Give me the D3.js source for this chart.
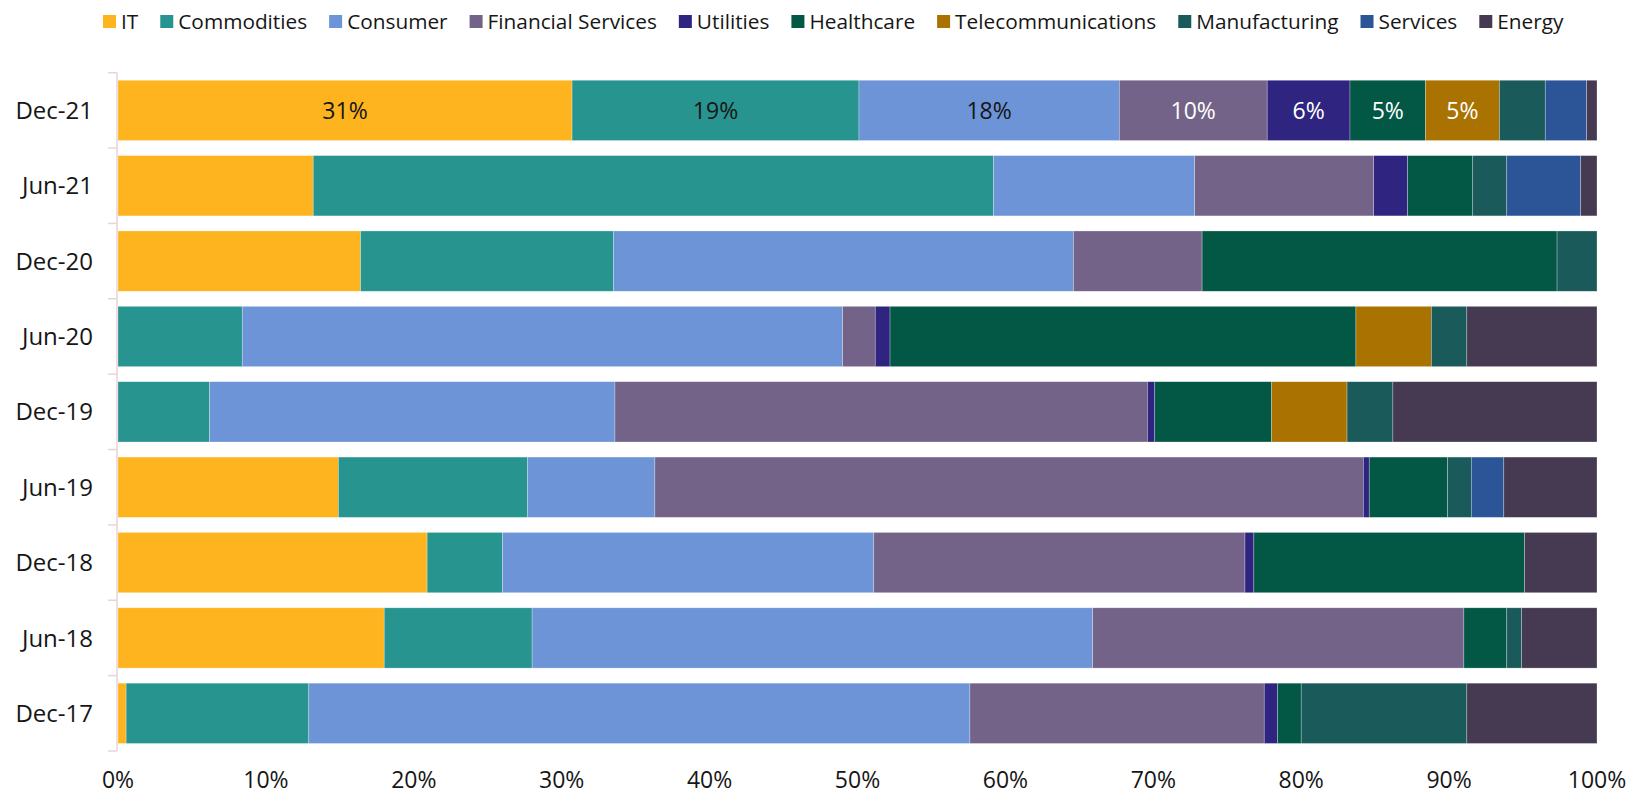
<!DOCTYPE html>
<html>
<head>
<meta charset="utf-8">
<script src="https://cdn.jsdelivr.net/npm/d3@7"></script>
<style>
  body { margin: 0; background: #fff; }
  svg text { font-family: "Open Sans", "Noto Sans", sans-serif; fill: #161616; }
</style>
</head>
<body>
<svg id="chart" width="1632" height="794"></svg>
<script>
// periods, top to bottom
var periods = ["Dec-21", "Jun-21", "Dec-20", "Jun-20", "Dec-19", "Jun-19", "Dec-18", "Jun-18", "Dec-17"];

var sectors = ["IT", "Commodities", "Consumer", "Financial Services", "Utilities",
               "Healthcare", "Telecommunications", "Manufacturing", "Services", "Energy"];

// share of portfolio (%) per sector, same order as periods
var it            = [30.7, 13.2, 16.4,  0.0,  0.0, 14.9, 20.9, 18.0,  0.55];
var commodities   = [19.4, 46.0, 17.1,  8.4,  6.2, 12.8,  5.1, 10.0, 12.35];
var consumer      = [17.6, 13.6, 31.1, 40.6, 27.4,  8.6, 25.1, 37.9, 44.7];
var financial     = [10.0, 12.1,  8.7,  2.2, 36.0, 47.9, 25.1, 25.1, 19.9];
var utilities     = [ 5.6,  2.3,  0.0,  1.0,  0.5,  0.4,  0.6,  0.0,  0.9];
var healthcare    = [ 5.1,  4.4, 24.0, 31.5,  7.9,  5.3, 18.3,  2.9,  1.6];
var telecom       = [ 5.0,  0.0,  0.0,  5.1,  5.1,  0.0,  0.0,  0.0,  0.0];
var manufacturing = [ 3.1,  2.3,  2.7,  2.4,  3.1,  1.6,  0.0,  1.0, 11.2];
var services      = [ 2.8,  5.0,  0.0,  0.0,  0.0,  2.2,  0.0,  0.0,  0.0];
var energy        = [ 0.7,  1.1,  0.0,  8.8, 13.8,  6.3,  4.9,  5.1,  8.8];

var xTicks = [0, 10, 20, 30, 40, 50, 60, 70, 80, 90, 100];

var colors = ["#fdb41f", "#289490", "#6c94d6", "#736388", "#2f2580",
              "#025745", "#aa7200", "#1a5a5a", "#2b5597", "#453a52"];
// sectors whose labels are drawn in white
var darkSectors = ["Financial Services", "Utilities", "Healthcare", "Telecommunications",
                   "Manufacturing", "Services", "Energy"];

var seriesValues = [it, commodities, consumer, financial, utilities,
                    healthcare, telecom, manufacturing, services, energy];

// build rows for d3.stack
var rows = periods.map(function(p, i) {
    var row = {period: p};
    sectors.forEach(function(s, j) { row[s] = seriesValues[j][i]; });
    return row;
});

var stacked = d3.stack().keys(sectors)(rows);

var svg = d3.select("#chart");

var x = d3.scaleLinear()
    .domain([0, 100])
    .range([118, 1597]);

var y = d3.scaleBand()
    .domain(periods)
    .range([72.7, 751])
    .paddingInner(0.2)
    .paddingOuter(0.1);

var color = d3.scaleOrdinal().domain(sectors).range(colors);

/* bars */
var layers = svg.append("g")
    .selectAll("g.layer")
    .data(stacked)
    .enter()
    .append("g")
    .attr("class", "layer")
    .attr("fill", d => color(d.key));

layers.selectAll("rect")
    .data(d => d.map(v => ({key: d.key, v: v})))
    .enter()
    .filter(d => d.v[1] - d.v[0] > 0)
    .append("rect")
    .attr("x", d => x(d.v[0]))
    .attr("y", d => y(d.v.data.period))
    .attr("width", d => x(d.v[1]) - x(d.v[0]))
    .attr("height", y.bandwidth())
    .attr("stroke", "#ffffff")
    .attr("stroke-opacity", 0.45)
    .attr("stroke-width", 0.6);

/* value labels, latest period only */
var latest = [];
stacked.forEach(function(layer) {
    var v = layer[0];
    if (v[1] - v[0] >= 4) latest.push({key: layer.key, v: v});
});

svg.append("g")
    .selectAll("text")
    .data(latest)
    .enter()
    .append("text")
    .attr("x", d => (x(d.v[0]) + x(d.v[1])) / 2)
    .attr("y", y(periods[0]) + y.bandwidth() / 2)
    .attr("dy", "0.36em")
    .attr("text-anchor", "middle")
    .style("font-size", "23px")
    .style("fill", d => darkSectors.indexOf(d.key) >= 0 ? "#ffffff" : "#161616")
    .text(d => Math.round(d.v[1] - d.v[0]) + "%");

/* y axis: light line with ticks between the bands */
var axisColor = "#e8d3d8";
var yAxis = svg.append("g");
yAxis.append("line")
    .attr("x1", 117).attr("x2", 117)
    .attr("y1", y.range()[0]).attr("y2", y.range()[1])
    .attr("stroke", axisColor)
    .attr("stroke-width", 1.5);
var bounds = d3.range(periods.length + 1).map(i => y.range()[0] + i * y.step());
yAxis.selectAll("line.tick")
    .data(bounds)
    .enter()
    .append("line")
    .attr("class", "tick")
    .attr("x1", 108).attr("x2", 117)
    .attr("y1", d => d).attr("y2", d => d)
    .attr("stroke", axisColor)
    .attr("stroke-width", 1.5);
yAxis.selectAll("text")
    .data(periods)
    .enter()
    .append("text")
    .attr("x", 93)
    .attr("y", d => y(d) + y.bandwidth() / 2)
    .attr("dy", "0.36em")
    .attr("text-anchor", "end")
    .style("font-size", "24px")
    .text(d => d);

/* x axis labels */
svg.append("g")
    .selectAll("text")
    .data(xTicks)
    .enter()
    .append("text")
    .attr("x", d => x(d))
    .attr("y", 788)
    .attr("text-anchor", "middle")
    .style("font-size", "23px")
    .text(d => d + "%");

/* legend */
var legend = svg.append("g");
var lx = 103;
sectors.forEach(function(s) {
    legend.append("rect")
        .attr("x", lx).attr("y", 15)
        .attr("width", 13).attr("height", 13)
        .attr("fill", color(s));
    var t = legend.append("text")
        .attr("x", lx + 18)
        .attr("y", 21.5)
        .attr("dy", "0.36em")
        .style("font-size", "20.8px")
        .text(s);
    lx += 18 + t.node().getComputedTextLength() + 22;
});
</script>
</body>
</html>
